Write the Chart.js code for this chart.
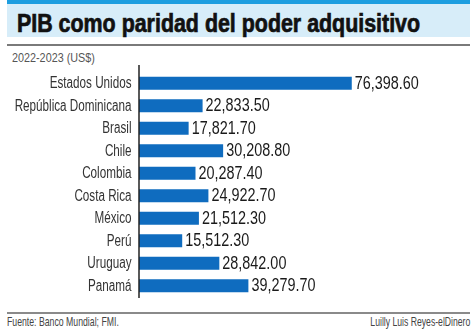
<!DOCTYPE html>
<html>
<head>
<meta charset="utf-8">
<script src="https://cdn.jsdelivr.net/npm/chart.js@4"></script>
<style>
  html, body { margin: 0; padding: 0; background: #fff; }
  #wrap { position: relative; width: 474px; height: 333px; overflow: hidden; background: #fff;
          font-family: "Liberation Sans", Arial, sans-serif; }
  #strip { position: absolute; left: 7px; top: 0; width: 463px; height: 4px; background: #1d9ee0; }
  #band { position: absolute; left: 7px; top: 4px; width: 463px; height: 33px; background: #d7edf9; }
  #title { position: absolute; left: 17px; top: 7px; font-size: 25px; line-height: 32px; font-weight: bold;
           color: #111; white-space: nowrap; transform: scaleX(0.856); transform-origin: 0 0;
           -webkit-text-stroke: 0.7px #111; }
  #rule1 { position: absolute; left: 7px; top: 44px; width: 463px; height: 2px; background: #7a7a7a; }
  #sub { position: absolute; left: 12px; top: 50.5px; font-size: 12px; line-height: 14px; color: #555;
         white-space: nowrap; transform: scaleX(0.9); transform-origin: 0 0; }
  #rule2 { position: absolute; left: 7px; top: 312px; width: 463px; height: 1.5px; background: #8a8a8a; }
  #src { position: absolute; left: 7px; top: 315.4px; font-size: 13px; line-height: 14px; color: #444;
         white-space: nowrap; transform: scaleX(0.67); transform-origin: 0 0; }
  #auth { position: absolute; right: 4px; top: 315.4px; font-size: 13px; line-height: 14px; color: #444;
          white-space: nowrap; transform: scaleX(0.665); transform-origin: 100% 0; }
  #c { position: absolute; left: 0; top: 0; }
</style>
</head>
<body>
<div id="wrap">
  <div id="strip"></div>
  <div id="band"></div>
  <div id="title">PIB como paridad del poder adquisitivo</div>
  <div id="rule1"></div>
  <div id="sub">2022-2023 (US$)</div>
  <div id="rule2"></div>
  <div id="src">Fuente: Banco Mundial; FMI.</div>
  <div id="auth">Luilly Luis Reyes-elDinero</div>
  <canvas id="c" width="474" height="333"></canvas>
</div>
<script>
const categories = ["Estados Unidos", "República Dominicana", "Brasil", "Chile", "Colombia",
                    "Costa Rica", "México", "Perú", "Uruguay", "Panamá"];
const pibPPA = [76398.60, 22833.50, 17821.70, 30208.80, 20287.40,
                24922.70, 21512.30, 15512.30, 28842.00, 39279.70];
const xMax = 100000;

const FONT = '"Liberation Sans", Arial, sans-serif';

// draws text horizontally condensed (emulates a narrow typeface)
function narrowText(ctx, txt, x, y, sx, align) {
  ctx.save();
  ctx.translate(x, y);
  ctx.scale(sx, 1);
  ctx.textAlign = align;
  ctx.fillText(txt, 0, 0);
  ctx.restore();
}

const valueLabels = {
  id: 'valueLabels',
  afterDatasetsDraw(chart) {
    const ctx = chart.ctx;
    const meta = chart.getDatasetMeta(0);
    ctx.save();
    ctx.font = '18px ' + FONT;
    ctx.fillStyle = '#1a1a1a';
    ctx.textBaseline = 'middle';
    meta.data.forEach((bar, i) => {
      const v = chart.data.datasets[0].data[i];
      const txt = v.toLocaleString('en-US', { minimumFractionDigits: 2, maximumFractionDigits: 2 });
      narrowText(ctx, txt, bar.x + 3, bar.y + 0.5, 0.8, 'left');
    });
    ctx.restore();
  }
};

const catLabels = {
  id: 'catLabels',
  afterDatasetsDraw(chart) {
    const ctx = chart.ctx;
    const ys = chart.scales.y;
    ctx.save();
    ctx.font = '16px ' + FONT;
    ctx.fillStyle = '#333';
    ctx.textBaseline = 'middle';
    chart.data.labels.forEach((lab, i) => {
      narrowText(ctx, lab, ys.right - 7.5, ys.getPixelForTick(i) + 0.5, 0.73, 'right');
    });
    ctx.restore();
  }
};

const axisLine = {
  id: 'axisLine',
  afterDatasetsDraw(chart) {
    const a = chart.chartArea;
    const ctx = chart.ctx;
    ctx.save();
    ctx.strokeStyle = '#222';
    ctx.lineWidth = 1.5;
    ctx.beginPath();
    ctx.moveTo(a.left, a.top - 7);
    ctx.lineTo(a.left, a.bottom + 1);
    ctx.stroke();
    ctx.restore();
  }
};

new Chart(document.getElementById('c'), {
  type: 'bar',
  data: {
    labels: categories,
    datasets: [{
      data: pibPPA,
      backgroundColor: '#0f6cbf',
      borderWidth: 0,
      barPercentage: 0.58,
      categoryPercentage: 1.0
    }]
  },
  options: {
    indexAxis: 'y',
    responsive: false,
    animation: false,
    devicePixelRatio: 1,
    layout: { padding: { top: 72, bottom: 36, left: 0, right: 56.5 } },
    plugins: { legend: { display: false }, tooltip: { enabled: false } },
    scales: {
      x: { display: false, min: 0, max: xMax },
      y: {
        afterFit(scale) { scale.width = 139; },
        grid: { display: false, drawTicks: false },
        border: { display: false },
        ticks: { display: false }
      }
    }
  },
  plugins: [valueLabels, catLabels, axisLine]
});
</script>
</body>
</html>
